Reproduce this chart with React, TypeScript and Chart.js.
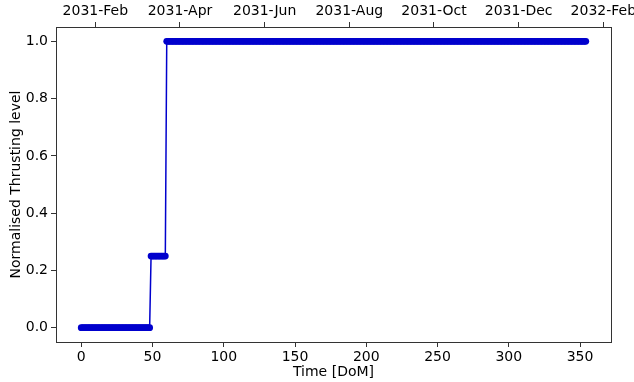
import React, { useEffect, useRef } from "react";
import { Chart, registerables } from "chart.js";

Chart.register(...registerables);

// Step levels (run-length: level, first day, last day)
const stepLevels = [0, 0.25, 1.0];
const stepFirstDay = [0, 49, 60];
const stepLastDay = [48, 59, 354];

const bottomTicks = [0, 50, 100, 150, 200, 250, 300, 350];
const yTicks = [0, 0.2, 0.4, 0.6, 0.8, 1.0];
const topTickDays = [9.9, 69.3, 128.7, 188.1, 247.5, 306.9, 366.3];
const topTickLabels = [
  "2031-Feb",
  "2031-Apr",
  "2031-Jun",
  "2031-Aug",
  "2031-Oct",
  "2031-Dec",
  "2032-Feb",
];

const X_MIN = -17.7;
const X_MAX = 371.7;
const Y_MIN = -0.05;
const Y_MAX = 1.05;

const COLOR = "#0000cd";
const FONT = { family: "DejaVu Sans", size: 14 };

export default function App() {
  const ref = useRef<HTMLCanvasElement | null>(null);

  useEffect(() => {
    if (!ref.current) return;
    const pts: { x: number; y: number }[] = [];
    stepLevels.forEach((lvl, i) => {
      for (let d = stepFirstDay[i]; d <= stepLastDay[i]; d++) {
        pts.push({ x: d, y: lvl });
      }
    });

    const axisCommon = {
      grid: {
        display: true,
        drawOnChartArea: false,
        drawTicks: true,
        tickLength: 5,
        tickWidth: 1,
        color: "#333",
      },
      border: { display: true, color: "#333", width: 1 },
    };

    const noPad = (s: any) => {
      s.paddingLeft = 0;
      s.paddingRight = 0;
      s.paddingTop = 0;
      s.paddingBottom = 0;
    };

    const chart = new Chart(ref.current, {
      type: "line",
      data: {
        datasets: [
          {
            data: pts,
            borderColor: COLOR,
            backgroundColor: COLOR,
            borderWidth: 1.5,
            pointRadius: 3.4,
            pointBorderWidth: 0,
            pointBackgroundColor: COLOR,
            pointHoverRadius: 3.4,
            tension: 0,
            fill: false,
            xAxisID: "x",
            yAxisID: "y",
          },
        ],
      },
      options: {
        animation: false,
        responsive: false,
        maintainAspectRatio: false,
        layout: { padding: 0 },
        plugins: {
          legend: { display: false },
          tooltip: { enabled: false },
        },
        scales: {
          x: {
            type: "linear",
            position: "bottom",
            min: X_MIN,
            max: X_MAX,
            ...axisCommon,
            afterBuildTicks: (s: any) => {
              s.ticks = bottomTicks.map((v) => ({ value: v }));
            },
            afterFit: (s: any) => {
              s.height = 40;
              noPad(s);
            },
            ticks: {
              font: FONT,
              color: "#000",
              padding: 2,
              maxRotation: 0,
              autoSkip: false,
              callback: (v: any) => String(v),
            },
            title: {
              display: true,
              text: "Time [DoM]",
              font: FONT,
              color: "#000",
              padding: { top: 0, bottom: 1 },
            },
          },
          xTop: {
            type: "linear",
            position: "top",
            min: X_MIN,
            max: X_MAX,
            ...axisCommon,
            afterBuildTicks: (s: any) => {
              s.ticks = topTickDays.map((v) => ({ value: v }));
            },
            afterFit: (s: any) => {
              s.height = 27;
              noPad(s);
            },
            ticks: {
              font: FONT,
              color: "#000",
              padding: 2,
              maxRotation: 0,
              autoSkip: false,
              callback: (_v: any, i: number) => topTickLabels[i],
            },
          },
          y: {
            type: "linear",
            position: "left",
            min: Y_MIN,
            max: Y_MAX,
            ...axisCommon,
            afterBuildTicks: (s: any) => {
              s.ticks = yTicks.map((v) => ({ value: v }));
            },
            afterFit: (s: any) => {
              s.width = 56;
              noPad(s);
            },
            ticks: {
              font: FONT,
              color: "#000",
              padding: 3,
              callback: (v: any) => Number(v).toFixed(1),
            },
            title: {
              display: true,
              text: "Normalised Thrusting level",
              font: FONT,
              color: "#000",
              padding: { top: 8, bottom: 0 },
            },
          },
          yRight: {
            type: "linear",
            position: "right",
            min: Y_MIN,
            max: Y_MAX,
            grid: { display: false, drawTicks: false },
            border: { display: true, color: "#333", width: 1 },
            ticks: { display: false },
            afterFit: (s: any) => {
              s.width = 23;
              noPad(s);
            },
          },
        },
      },
    } as any);

    return () => chart.destroy();
  }, []);

  return (
    <div style={{ position: "fixed", left: 0, top: 0, width: 634, height: 382, background: "#fff" }}>
      <canvas ref={ref} width={634} height={382} style={{ width: 634, height: 382, display: "block" }} />
    </div>
  );
}
